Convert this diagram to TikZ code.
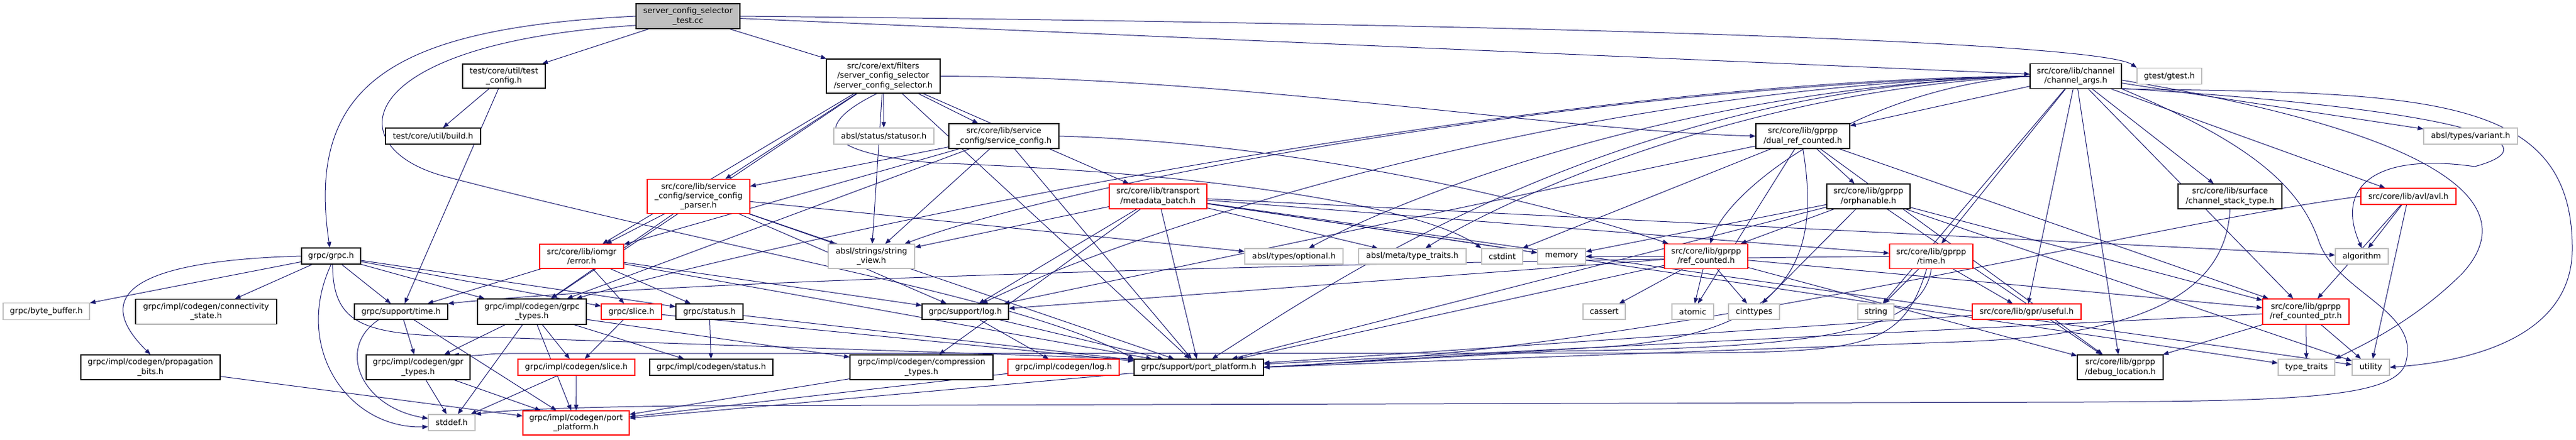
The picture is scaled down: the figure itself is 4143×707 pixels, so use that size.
\documentclass[tikz,border=0pt]{standalone}
\usepackage{fontspec}
\setmainfont{DejaVu Sans}
\usetikzlibrary{arrows.meta,backgrounds}
\definecolor{edgeblue}{RGB}{25,25,112}
\definecolor{nodegray}{RGB}{191,191,191}
\tikzset{
  hdr/.style={draw=black, fill=white, line width=1.2pt, inner sep=0pt, align=center,
    font=\fontsize{12.8}{15.3}\selectfont},
  sys/.style={hdr, draw=nodegray},
  trunc/.style={hdr, draw=red},
  root/.style={hdr, fill=nodegray},
  incl/.style={draw=edgeblue, line width=1pt, ->}
}
\begin{document}
\begin{tikzpicture}[x=1pt, y=-1pt, >={Triangle[length=9pt,width=7pt]}]
\useasboundingbox (0,0) rectangle (4143,707);

% top rows
\node[root, minimum width=167pt, minimum height=40pt] (test) at (1106.5,26) {server\_config\_selector\\\_test.cc};
\node[hdr, minimum width=133pt, minimum height=39pt] (testconfig) at (810.5,122.5) {test/core/util/test\\\_config.h};
\node[hdr, minimum width=183pt, minimum height=55pt] (scs) at (1420.5,122.5) {src/core/ext/filters\\/server\_config\_selector\\/server\_config\_selector.h};
\node[hdr, minimum width=147pt, minimum height=40pt] (channelargs) at (3338.5,122.5) {src/core/lib/channel\\/channel\_args.h};
\node[sys, minimum width=104pt, minimum height=26pt] (gtest) at (3489,122.5) {gtest/gtest.h};
\node[hdr, minimum width=153pt, minimum height=26pt] (build) at (696.5,219) {test/core/util/build.h};
\node[sys, minimum width=161pt, minimum height=26pt] (statusor) at (1421.5,219) {absl/status/statusor.h};
\node[hdr, minimum width=177pt, minimum height=40pt] (svccfg) at (1614.5,219) {src/core/lib/service\\\_config/service\_config.h};
\node[hdr, minimum width=151pt, minimum height=40pt] (dualref) at (2899.5,219) {src/core/lib/gprpp\\/dual\_ref\_counted.h};
\node[sys, minimum width=151pt, minimum height=26pt] (variant) at (3973.5,219) {absl/types/variant.h};
\node[trunc, minimum width=165pt, minimum height=55pt] (parser) at (1123.5,316) {src/core/lib/service\\\_config/service\_config\\\_parser.h};
\node[trunc, minimum width=157pt, minimum height=40pt] (metadata) at (1862.5,316) {src/core/lib/transport\\/metadata\_batch.h};
\node[hdr, minimum width=134pt, minimum height=40pt] (orphanable) at (3005,316) {src/core/lib/gprpp\\/orphanable.h};
\node[hdr, minimum width=167pt, minimum height=40pt] (stacktype) at (3586.5,316) {src/core/lib/surface\\/channel\_stack\_type.h};
\node[trunc, minimum width=153pt, minimum height=26pt] (avl) at (3873.5,316) {src/core/lib/avl/avl.h};

% middle row
\node[hdr, minimum width=95pt, minimum height=26pt] (grpch) at (532.5,412) {grpc/grpc.h};
\node[trunc, minimum width=135pt, minimum height=39pt] (error) at (935.5,412.5) {src/core/lib/iomgr\\/error.h};
\node[sys, minimum width=139pt, minimum height=39pt] (strview) at (1401.5,412.5) {absl/strings/string\\\_view.h};
\node[sys, minimum width=158pt, minimum height=25pt] (optional) at (2081,412.5) {absl/types/optional.h};
\node[sys, minimum width=173pt, minimum height=25pt] (metatraits) at (2271.5,412.5) {absl/meta/type\_traits.h};
\node[sys, minimum width=66pt, minimum height=25pt] (cstdint) at (2416,412.5) {cstdint};
\node[sys, minimum width=77pt, minimum height=25pt] (memory) at (2511.5,412.5) {memory};
\node[trunc, minimum width=134pt, minimum height=40pt] (refcounted) at (2744,412.5) {src/core/lib/gprpp\\/ref\_counted.h};
\node[trunc, minimum width=134pt, minimum height=40pt] (gpptime) at (3106,412.5) {src/core/lib/gprpp\\/time.h};
\node[sys, minimum width=85pt, minimum height=25pt] (algorithm) at (3798.5,412.5) {algorithm};

\node[sys, minimum width=139pt, minimum height=27pt] (bytebuf) at (74.5,501) {grpc/byte\_buffer.h};
\node[hdr, minimum width=227pt, minimum height=40pt] (connstate) at (331.5,501.5) {grpc/impl/codegen/connectivity\\\_state.h};
\node[hdr, minimum width=150pt, minimum height=25pt] (sptime) at (645,501.5) {grpc/support/time.h};
\node[hdr, minimum width=175pt, minimum height=41pt] (grpctypes) at (855.5,501.5) {grpc/impl/codegen/grpc\\\_types.h};
\node[trunc, minimum width=97pt, minimum height=25pt] (slice) at (1015.5,501.5) {grpc/slice.h};
\node[hdr, minimum width=108pt, minimum height=25pt] (status) at (1141,501.5) {grpc/status.h};
\node[hdr, minimum width=139pt, minimum height=25pt] (splog) at (1552.5,501.5) {grpc/support/log.h};
\node[sys, minimum width=68pt, minimum height=25pt] (cassert) at (2580,501.5) {cassert};
\node[sys, minimum width=67pt, minimum height=25pt] (atomic) at (2722.5,501.5) {atomic};
\node[sys, minimum width=82pt, minimum height=25pt] (cinttypes) at (2821,501.5) {cinttypes};
\node[sys, minimum width=58pt, minimum height=25pt] (string) at (3017,501.5) {string};
\node[trunc, minimum width=175pt, minimum height=25pt] (useful) at (3259.5,501.5) {src/core/lib/gpr/useful.h};
\node[trunc, minimum width=139pt, minimum height=41pt] (refptr) at (3708.5,501.5) {src/core/lib/gprpp\\/ref\_counted\_ptr.h};

% bottom rows
\node[hdr, minimum width=224pt, minimum height=40pt] (propbits) at (242,591) {grpc/impl/codegen/propagation\\\_bits.h};
\node[hdr, minimum width=167pt, minimum height=40pt] (gprtypes) at (672.5,591) {grpc/impl/codegen/gpr\\\_types.h};
\node[trunc, minimum width=188pt, minimum height=26pt] (cgslice) at (927,591) {grpc/impl/codegen/slice.h};
\node[hdr, minimum width=198pt, minimum height=26pt] (cgstatus) at (1144,591) {grpc/impl/codegen/status.h};
\node[hdr, minimum width=230pt, minimum height=40pt] (comptypes) at (1482,591) {grpc/impl/codegen/compression\\\_types.h};
\node[trunc, minimum width=179pt, minimum height=26pt] (cglog) at (1710.5,591) {grpc/impl/codegen/log.h};
\node[hdr, minimum width=208pt, minimum height=26pt] (spport) at (1928,591) {grpc/support/port\_platform.h};
\node[hdr, minimum width=138pt, minimum height=40pt] (debugloc) at (3410,591) {src/core/lib/gprpp\\/debug\_location.h};
\node[sys, minimum width=91pt, minimum height=26pt] (stdtraits) at (3709.5,591) {type\_traits};
\node[sys, minimum width=60pt, minimum height=26pt] (utility) at (3813,591) {utility};
\node[sys, minimum width=75pt, minimum height=26pt] (stddef) at (726.5,680) {stddef.h};
\node[trunc, minimum width=171pt, minimum height=39pt] (cgport) at (926.5,680.5) {grpc/impl/codegen/port\\\_platform.h};

\begin{scope}[on background layer]
\fill[white] (0,0) rectangle (4143,707);
\foreach \a/\b in {test/testconfig,test/scs,test/channelargs,
  testconfig/build,testconfig/sptime,
  scs/statusor,scs/svccfg,scs/parser,scs/error,scs/grpctypes,scs/strview,scs/metadata,scs/spport,
  svccfg/parser,svccfg/strview,svccfg/error,svccfg/spport,svccfg/grpctypes,
  parser/error,parser/grpctypes,parser/strview,parser/optional,parser/splog,parser/spport,
  metadata/strview,metadata/comptypes,metadata/splog,metadata/spport,metadata/metatraits,metadata/memory,
  metadata/gpptime,metadata/algorithm,metadata/utility,metadata/stdtraits,
  error/sptime,error/slice,error/status,error/splog,error/spport,
  grpch/bytebuf,grpch/connstate,grpch/sptime,grpch/grpctypes,grpch/slice,grpch/status,
  sptime/gprtypes,sptime/cgport,
  grpctypes/gprtypes,grpctypes/cgslice,grpctypes/cgstatus,grpctypes/comptypes,grpctypes/cgport,grpctypes/stddef,
  slice/cgslice,slice/spport,status/cgstatus,status/spport,splog/cglog,splog/spport,
  cglog/cgport,spport/cgport,comptypes/cgport,cgslice/cgport,cgslice/stddef,gprtypes/stddef,gprtypes/cgport,propbits/cgport,
  channelargs/variant,channelargs/string,channelargs/avl,channelargs/stacktype,channelargs/dualref,
  channelargs/refptr,channelargs/gpptime,channelargs/useful,channelargs/debugloc,
  dualref/orphanable,dualref/atomic,dualref/cstdint,dualref/debugloc,dualref/refptr,dualref/splog,
  orphanable/refcounted,orphanable/cinttypes,orphanable/memory,orphanable/spport,orphanable/refptr,
  orphanable/debugloc,orphanable/utility,
  refcounted/cassert,refcounted/atomic,refcounted/cinttypes,refcounted/debugloc,refcounted/refptr,
  refcounted/memory,refcounted/splog,refcounted/spport,
  gpptime/string,gpptime/useful,useful/spport,
  avl/algorithm,avl/utility,avl/refptr,refptr/stdtraits,refptr/utility,refptr/debugloc,refptr/spport}
  \draw[incl] (\a) -- (\b);

% connectors leaving channel_args.h to the left
\foreach \b/\u/\v/\s/\t in {strview/2500/140/1700/300, optional/2700/140/2250/320,
  metatraits/2800/145/2420/320, grpctypes/2400/130/1200/400, splog/2500/140/1800/380,
  spport/2600/140/2150/450, refcounted/3000/140/2780/300}
  \draw[incl] (channelargs.west) .. controls (\u,\v) and (\s,\t) .. (\b);
\draw[incl] (scs.east) .. controls (2000,125) and (2500,210) .. (dualref.west);
\draw[incl] (svccfg.east) .. controls (2100,230) and (2500,330) .. (refcounted);

% routed connectors
\draw[incl] (test.west) .. controls (640,45) and (490,130) .. (grpch);
\draw[incl] (test.190) .. controls (560,70) and (540,240) .. (720,285) .. controls (1200,410) and (1650,480) .. (spport.north west);
\draw[incl] (test.east) .. controls (2600,40) and (3380,70) .. (gtest.north west);
\draw[incl] (scs.250) .. controls (1310,200) and (1310,245) .. (1500,262) .. controls (2000,280) and (2300,340) .. (cstdint.north west);
\draw[incl] (grpch.west) .. controls (200,420) and (150,480) .. (propbits.north);
\draw[incl] (grpch.south) .. controls (470,560) and (560,690) .. (stddef.190);
\draw[incl] (grpch.280) .. controls (535,535) and (600,540) .. (800,543) -- (spport.north west);
\draw[incl] (sptime.200) .. controls (540,560) and (580,655) .. (stddef.170);
\draw[incl] (gpptime.west) .. controls (2200,420) and (1100,450) .. (sptime.north east);
\draw[incl] (gpptime.250) .. controls (3060,560) and (3000,567) .. (2700,568) -- (800,569) .. controls (780,570) and (765,574) .. (gprtypes.20);
\draw[incl] (gpptime.south) .. controls (3090,540) and (2900,560) .. (2500,565) -- (spport.east);
\draw[incl] (dualref.south) .. controls (2930,420) and (2880,545) .. (2550,560) -- (spport.east);
\draw[incl] (avl.west) .. controls (3450,360) and (2700,560) .. (spport.east);
\draw[incl] (stacktype.south) .. controls (3580,470) and (3450,540) .. (3150,550) -- (spport.east);
\draw[incl] (channelargs.south east) .. controls (3900,150) and (4137,150) .. (4137,400) .. controls (4137,530) and (4000,580) .. (utility.east);
\draw[incl] (channelargs.345) .. controls (3950,175) and (4120,230) .. (3980,268) .. controls (3820,245) and (3755,300) .. (algorithm.north);
\draw[incl] (channelargs.-5) .. controls (3900,210) and (4070,320) .. (3960,440) .. controls (3880,520) and (3790,560) .. (stdtraits.north east);
\draw[incl] (channelargs.south east) .. controls (3620,230) and (3700,300) .. (3730,390) .. controls (3760,470) and (3890,500) .. (3870,580) .. controls (3860,640) and (3700,645) .. (3350,647) -- (1100,653) .. controls (950,655) and (830,658) .. (stddef.north east);
\end{scope}
\end{tikzpicture}
\end{document}
